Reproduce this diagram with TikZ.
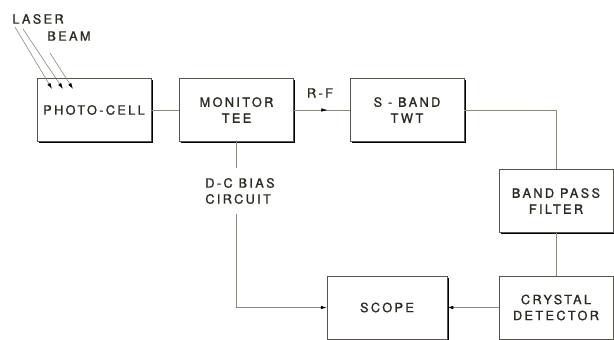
\documentclass[tikz,border=0pt]{standalone}
\usepackage{fontspec}
\setsansfont{TeX Gyre Heros}[LetterSpace=18,FakeBold=1.2]
\usepackage{tikz}
\usetikzlibrary{arrows.meta,positioning,calc,shadows,decorations.markings}
\definecolor{ink}{HTML}{2B2B22}
\definecolor{wire}{HTML}{8A8A80}

\begin{document}
\begin{tikzpicture}[x=1pt,y=-1pt,
  font=\sffamily\fontsize{12.8}{15}\selectfont,
  block/.style={draw=ink!80,line width=0.5pt,fill=white,text=ink,align=center,
    minimum width=114pt,minimum height=63pt,inner sep=0pt,
    drop shadow={shadow xshift=1.6pt,shadow yshift=-1.6pt,fill=black,opacity=1}},
  wirel/.style={draw=wire,line width=0.6pt},
  lbl/.style={text=ink,inner sep=0pt,align=center},
  tip/.style={-{Latex[black,length=6pt,width=3.5pt]}}]
\useasboundingbox (0,0) rectangle (614,340);
% blocks
\node[block] (photo) at (94,110) {PHOTO-CELL};
\node[block] (tee) at (236.5,110) {MONITOR\\[1pt]TEE};
\node[block] (twt) at (407,110) {S - BAND\\[1pt]TWT};
\node[block] (bpf) at (556,201) {BAND PASS\\[1pt]FILTER};
\node[block] (crys) at (556,307.5) {CRYSTAL\\[1pt]DETECTOR};
\node[block,minimum width=120pt] (scope) at (387,307.5) {SCOPE};
% labels
\node[lbl] (laser) at (38,19) {LASER};
\node[lbl] (beam) at (69,36) {BEAM};
\node[lbl] (rf) at (320,93) {R-F};
\node[lbl,align=left,inner ysep=10pt] (dcbias) at (240,191) {D-C BIAS\\[1pt]CIRCUIT};
% laser beam
\coordinate (b1) at (15,27);
\coordinate (b2) at (23,29);
\coordinate (b3) at (50,53);
\draw[wirel,tip] (b1) -- (52,89);
\draw[wirel,tip] (b2) -- (63,89);
\draw[wirel,tip] (b3) -- (73,89);
% signal path
\draw[wirel] (photo.east) -- (tee.west);
\draw[wirel,postaction={decorate},decoration={markings,
  mark=at position 0.6 with {\arrow{Latex[black,length=6pt,width=3.5pt]}}}]
  (tee.east) -- (twt.west);
\draw[wirel] (twt.east) -| (bpf.north);
\draw[wirel] (bpf.south) -- (crys.north);
\draw[wirel,tip] (crys.west) -- (scope.east);
\draw[wirel] (tee.south) -- (tee.south |- dcbias.north);
\draw[wirel,tip] (tee.south |- dcbias.south) |- (scope.west);
\end{tikzpicture}
\end{document}
